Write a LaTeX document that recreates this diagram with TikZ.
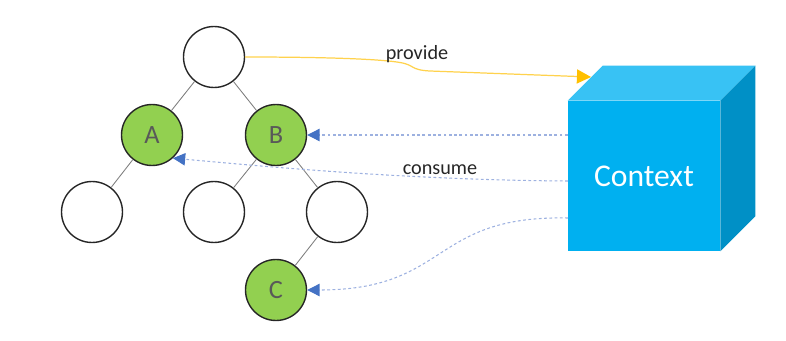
\documentclass[tikz,border=0pt]{standalone}
\usepackage{fontspec}
\setmainfont{Carlito}
\usepackage{xcolor}
\usetikzlibrary{arrows.meta,calc}
\definecolor{leafgreen}{HTML}{92D050}
\definecolor{ctxfront}{HTML}{00B0F0}
\definecolor{ctxtop}{HTML}{38C2F4}
\definecolor{ctxside}{HTML}{0090C6}
\definecolor{dashblue}{HTML}{9DB1E0}
\definecolor{tipblue}{HTML}{4472C4}
\definecolor{provline}{HTML}{FFD24D}
\definecolor{provtip}{HTML}{FFC000}

\begin{document}
\begin{tikzpicture}[
  vert/.style={circle,draw=black!85,line width=0.8pt,fill=white,minimum size=1.22cm,inner sep=0pt,text=black!65,font=\fontsize{15}{15}\selectfont},
  marked/.style={vert,fill=leafgreen},
  edge/.style={draw=black!50,line width=0.5pt},
  consume/.style={dashblue,line width=0.6pt,dash pattern=on 1.6pt off 1.4pt,-{Triangle[length=7pt,width=7pt,fill=tipblue,color=tipblue,sep=0pt]}},
  lbl/.style={text=black!85,font=\fontsize{11.5}{12}\selectfont}]
\useasboundingbox (0,0) rectangle (15.72,6.8);
% tree
\node[vert](root) at (4.28,5.66){};
\node[marked](A) at (3.04,4.1){A};
\node[marked](B) at (5.52,4.1){B};
\node[vert](l1) at (1.84,2.56){};
\node[vert](l2) at (4.28,2.56){};
\node[vert](l3) at (6.74,2.56){};
\node[marked](C) at (5.52,1.0){C};
\draw[edge](root)--(A) (root)--(B) (A)--(l1) (B)--(l2) (B)--(l3) (l3)--(C);
% cube
\node[fill=ctxfront,minimum width=3.04cm,minimum height=3.0cm,inner sep=0pt,text=white,font=\fontsize{18}{18}\selectfont](ctx) at (12.88,3.28){Context};
\fill[ctxtop](ctx.north west)--++(0.7,0.7)--($(ctx.north east)+(0.7,0.7)$)--(ctx.north east)--cycle;
\fill[ctxside](ctx.north east)--++(0.7,0.7)--($(ctx.south east)+(0.7,0.7)$)--(ctx.south east)--cycle;
% provide
\coordinate(pin) at (11.82,5.26);
\draw[provline,line width=0.7pt,-{Triangle[length=8pt,width=8pt,fill=provtip,color=provtip]}]
  (root.east)..controls (6.5,5.66) and (7.6,5.62)..(8.0,5.55)
  ..controls (8.3,5.5) and (8.2,5.4)..(8.6,5.38)--(pin);
\node[lbl](prov) at (8.34,5.72){provide};
% consume
\coordinate(ca) at (11.36,3.18);
\coordinate(cc) at (11.36,2.44);
\draw[consume](ctx.west|-B)--(B);
\draw[consume](ca)..controls (8,3.2) and (5,3.5)..(A.-48);
\draw[consume](cc)..controls (8.6,2.5) and (9.0,1.0)..(C);
\node[lbl](cons) at (8.8,3.4){consume};
\end{tikzpicture}
\end{document}
